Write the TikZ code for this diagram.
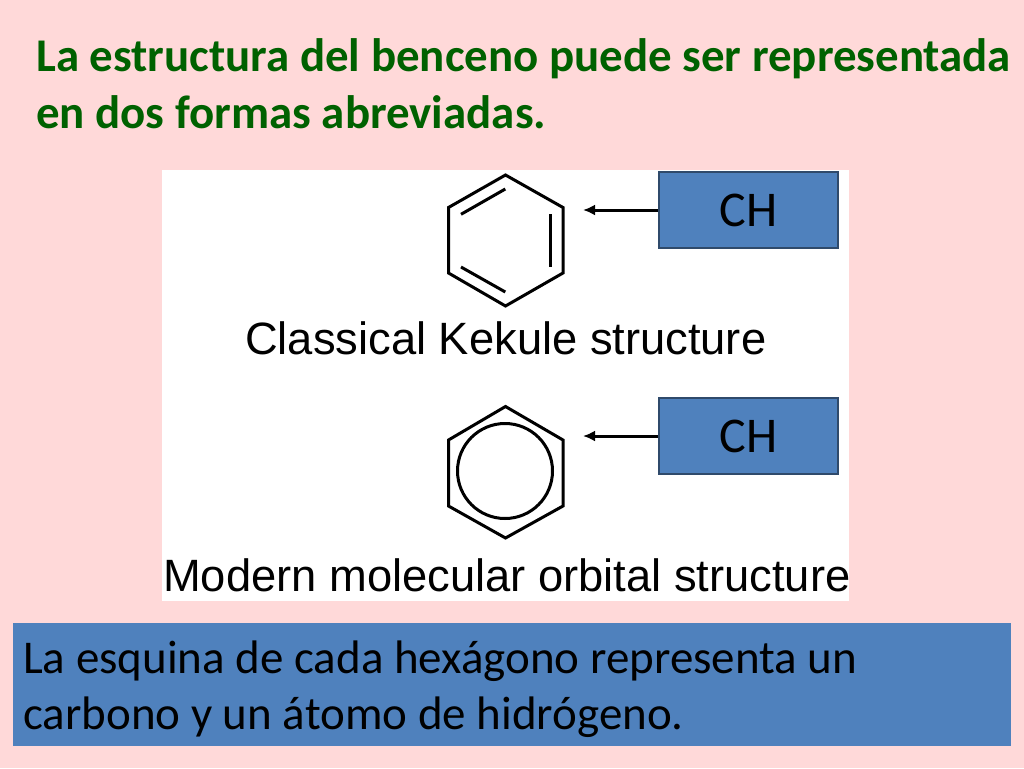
\documentclass[tikz,border=0pt]{standalone}
\usepackage{fontspec}
\setmainfont{Carlito}
\newfontfamily\labelfont{Liberation Sans}
\usetikzlibrary{arrows.meta}
\definecolor{slidepink}{HTML}{FFD9D9}
\definecolor{titlegreen}{HTML}{006100}
\definecolor{boxblue}{HTML}{4F81BD}
\definecolor{boxedge}{HTML}{2F4A6B}
\tikzset{
  chbox/.style={draw=boxedge, line width=1.5pt, fill=boxblue, minimum width=179pt, minimum height=76pt, inner sep=0pt, font=\fontsize{50}{50}\selectfont, text=black},
  titleline/.style={anchor=base west, inner sep=0pt, text=titlegreen, font=\fontsize{46.9}{47}\selectfont\bfseries},
  noteline/.style={anchor=base west, inner sep=0pt, text=black, font=\fontsize{47}{47}\selectfont},
  caption/.style={anchor=base west, inner sep=0pt, font=\fontsize{45.3}{45}\selectfont\labelfont},
  ringline/.style={line width=3pt, black, line join=miter},
  pointer/.style={line width=3pt, black, -{Latex[length=12pt,width=11pt]}}
}
\begin{document}
\begin{tikzpicture}[x=1pt, y=-1pt]
  \useasboundingbox (0,0) rectangle (1024,768);
  \fill[slidepink] (0,0) rectangle (1024,768);
  \fill[white] (162,170) rectangle (849,601);
  \node[titleline] (title1) at (36,71) {La estructura del benceno puede ser representada};
  \node[titleline] (title2) at (36,128) {en dos formas abreviadas.};
  % kekule ring
  \draw[ringline] (505.5,175) -- (563,207.5) -- (563,273) -- (505.5,306) -- (448.5,273) -- (448.5,207.5) -- cycle;
  \draw[ringline] (461,214.3) -- (505.3,189);
  \draw[ringline] (550.3,214) -- (550.3,266.7);
  \draw[ringline] (461,267) -- (505.3,292);
  \node[caption] (kekule) at (245,354) {Classical Kekule structure};
  % orbital ring
  \draw[ringline] (505.5,406.5) -- (563,440) -- (563,506) -- (505.5,538) -- (448.5,506) -- (448.5,440) -- cycle;
  \draw[ringline] (505,471) circle (47.5);
  \node[caption] (modern) at (163,591) {Modern molecular orbital structure};
  \node[chbox] (ch1) at (748.5,210) {CH};
  \node[chbox] (ch2) at (748.5,436) {CH};
  \coordinate (tip1) at (583,210);
  \coordinate (tip2) at (583,436);
  \draw[pointer] (ch1) -- (tip1);
  \draw[pointer] (ch2) -- (tip2);
  \node[fill=boxblue, minimum width=998pt, minimum height=123pt, inner sep=0pt] (note) at (512,684.5) {};
  \node[noteline] (note1) at (23,673) {La esquina de cada hexágono representa un};
  \node[noteline] (note2) at (23,729) {carbono y un átomo de hidrógeno.};
\end{tikzpicture}
\end{document}
